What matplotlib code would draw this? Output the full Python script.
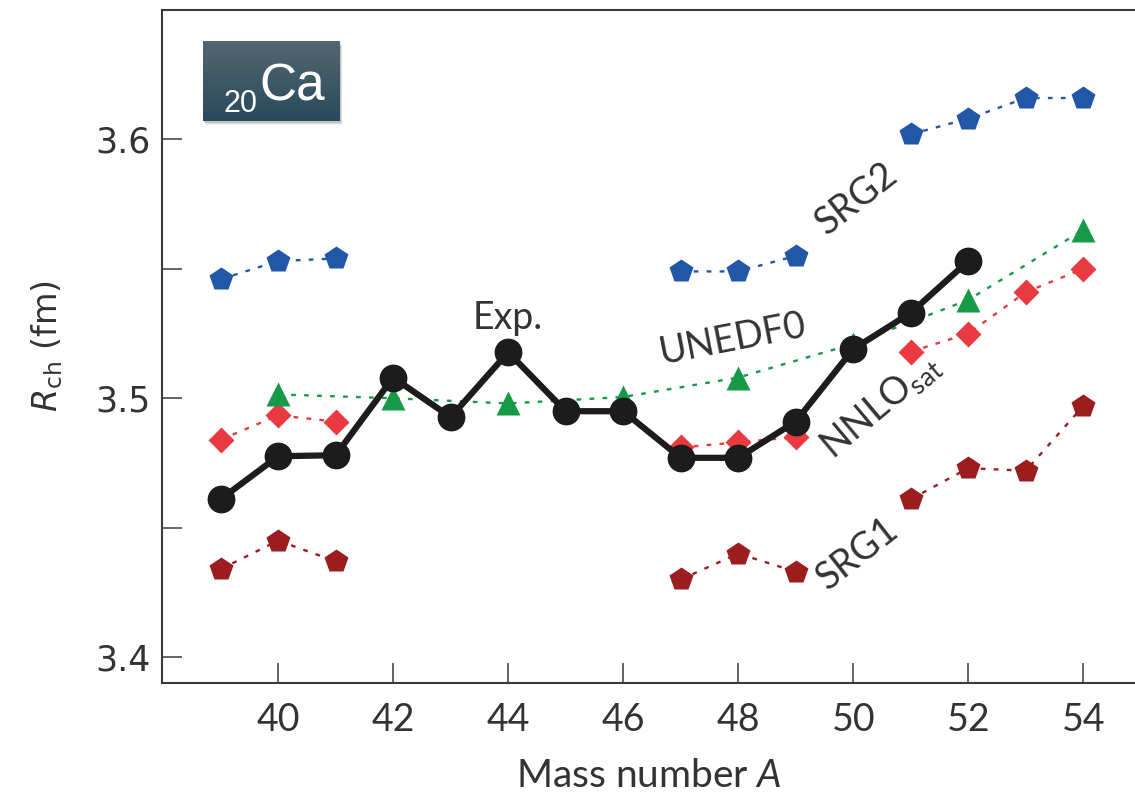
import numpy as np
import matplotlib
matplotlib.use("Agg")
import matplotlib.pyplot as plt
from matplotlib.patches import Rectangle

plt.rcParams["mathtext.fontset"] = "custom"
plt.rcParams["mathtext.rm"] = "Lato"
plt.rcParams["mathtext.it"] = "Lato:italic"

# Mass numbers 39..54; NaN where a calculation is missing (breaks the line)
mass = np.arange(39, 55)
nan = np.nan

r_exp = [3.461, 3.4776, 3.478, 3.508, 3.4927, 3.5178, 3.495, 3.495,
         3.477, 3.477, 3.491, 3.519, 3.533, 3.553, nan, nan]
r_srg2 = [3.546, 3.553, 3.554, nan, nan, nan, nan, nan,
          3.549, 3.549, 3.555, nan, 3.602, 3.608, 3.616, 3.616]
r_srg1 = [3.434, 3.445, 3.437, nan, nan, nan, nan, nan,
          3.430, 3.440, 3.433, nan, 3.461, 3.473, 3.472, 3.497]
r_nnlo = [3.484, 3.4934, 3.491, nan, nan, nan, nan, nan,
          3.481, 3.483, 3.485, nan, 3.518, 3.525, 3.541, 3.550]

# UNEDF0 only at even A
mass_unedf = [40, 42, 44, 46, 48, 50, 52, 54]
r_unedf = [3.5015, 3.500, 3.498, 3.5005, 3.508, 3.521, 3.538, 3.565]

fig = plt.figure(figsize=(11.35, 7.96), dpi=100)
ax = fig.add_axes([162 / 1135, 1 - 683 / 796, 973 / 1135, 673 / 796])

dash = (0, (2, 3.5))
ax.plot(mass, r_srg2, color="#2157a6", ls=dash, lw=1.7, marker="p", ms=18,
        mec="none", zorder=3)
ax.plot(mass, r_srg1, color="#9c1d20", ls=dash, lw=1.7, marker="p", ms=18,
        mec="none", zorder=3)
ax.plot(mass, r_nnlo, color="#e83a40", ls=dash, lw=1.7, marker="D", ms=13,
        mec="none", zorder=3)
ax.plot(mass_unedf, r_unedf, color="#169a48", ls=dash, lw=1.7, marker="^",
        ms=17, mec="none", zorder=3)
ax.plot(mass, r_exp, color="#1c1c1c", lw=4.5, marker="o", ms=19, zorder=5)

ax.set_xlim(37.98, 54.9)
ax.set_ylim(3.39, 3.65)
ax.set_xticks(np.arange(40, 55, 2))
ax.set_yticks([3.4, 3.5, 3.6])
ax.set_yticks([3.45, 3.55], minor=True)

for s in ["left", "bottom", "top"]:
    ax.spines[s].set_linewidth(1.5)
    ax.spines[s].set_color("#3a3a3a")
ax.spines["right"].set_visible(False)

ax.tick_params(which="both", direction="in", length=14.5, width=1.1,
               color="#3a3a3a", right=False, top=False)
ax.tick_params(axis="y", labelsize=25, pad=8, labelcolor="#333333")
ax.tick_params(axis="x", labelsize=27, pad=14, labelcolor="#333333")
for lab in ax.get_xticklabels():
    lab.set_family("Lato")
for lab in ax.get_yticklabels():
    lab.set_family("DejaVu Sans")

ax.set_xlabel("Mass number $\\mathit{A}$", fontsize=28, family="Lato",
              color="#333333", labelpad=14)
ax.set_ylabel("$R_{\\rm ch}$ (fm)", fontsize=24, family="DejaVu Sans",
              math_fontfamily="dejavusans", color="#333333", labelpad=22)

# curve labels
lab_kw = dict(fontsize=27, family="Lato", color="#333333", ha="center",
              va="center")
ax.text(44, 3.531, "Exp.", **lab_kw)
ax.text(47.9, 3.523, "UNEDF0", rotation=11, **lab_kw)
ax.text(50.05, 3.577, "SRG2", rotation=38, **lab_kw)
ax.text(50.47, 3.497, "NNLO$_{\\rm sat}$", rotation=40, **lab_kw)
ax.text(50.07, 3.440, "SRG1", rotation=38, **lab_kw)

# 20Ca badge with soft shadow and vertical gradient
bx, by, bw, bh = 0.0421, 0.8351, 0.1408, 0.1174
for k, a in enumerate([0.06, 0.08, 0.12]):
    off = 0.006 - 0.0015 * k
    ax.add_patch(Rectangle((bx + off * 0.4, by - off), bw, bh,
                           transform=ax.transAxes, color="black", alpha=a,
                           lw=0, zorder=8))
grad = np.linspace(0, 1, 64).reshape(-1, 1)
top = np.array([0.33, 0.40, 0.44])
bot = np.array([0.16, 0.29, 0.36])
img = top + (bot - top) * grad[..., None]
ax.imshow(img, extent=[bx, bx + bw, by, by + bh], transform=ax.transAxes,
          aspect="auto", zorder=9)
ax.text(0.0627, 0.848, "20", transform=ax.transAxes, fontsize=22,
        family="Liberation Sans", color="white", va="baseline", zorder=10)
ax.text(0.0997, 0.866, "Ca", transform=ax.transAxes, fontsize=37,
        family="Liberation Sans", color="white", va="baseline", zorder=10)

ax.set_xlim(37.98, 54.9)
ax.set_ylim(3.39, 3.65)
ax.set_aspect("auto")

fig.savefig("out.png", dpi=100)
